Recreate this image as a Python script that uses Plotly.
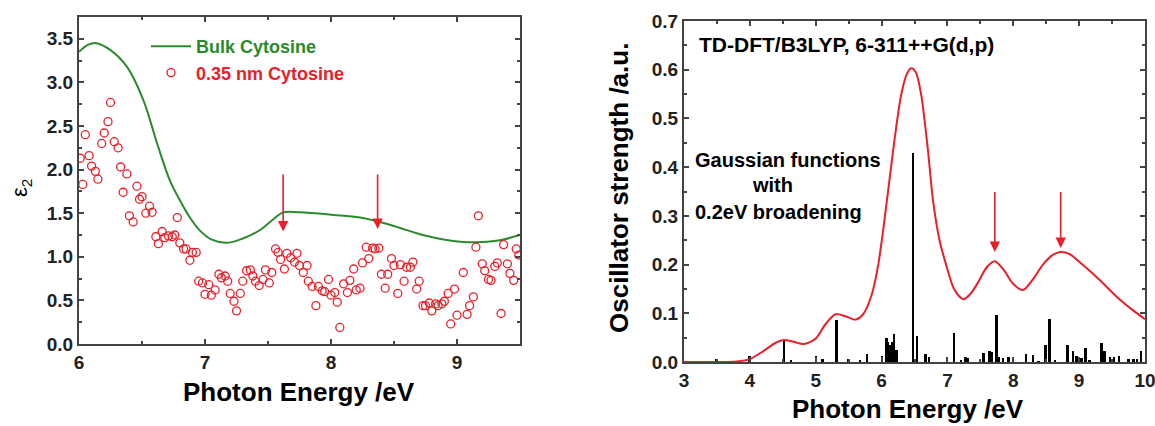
import plotly.graph_objects as go

# ---------------- Left panel data ----------------
bulk_x = [6.0, 6.07, 6.14, 6.25, 6.38, 6.51, 6.62, 6.72, 6.80, 6.88, 6.96, 7.05, 7.17, 7.30, 7.44, 7.55, 7.62, 7.75,
          8.02, 8.23, 8.41, 8.55, 8.68, 8.85, 9.05, 9.2, 9.34, 9.5]
bulk_y = [3.35, 3.43, 3.45, 3.37, 3.18, 2.80, 2.30, 1.88, 1.65, 1.45, 1.30, 1.20, 1.16, 1.21, 1.31, 1.44, 1.51, 1.51,
          1.48, 1.45, 1.39, 1.33, 1.27, 1.21, 1.17, 1.17, 1.19, 1.25]

nm_x = [6.01, 6.03, 6.05, 6.08, 6.10, 6.13, 6.15, 6.18, 6.20, 6.23, 6.25, 6.28, 6.31, 6.33, 6.35, 6.38, 6.40, 6.43,
        6.46, 6.48, 6.50, 6.53, 6.56, 6.58, 6.61, 6.63, 6.66, 6.68, 6.71, 6.74, 6.76, 6.78, 6.80, 6.83, 6.85, 6.88,
        6.90, 6.93, 6.95, 6.98, 7.00, 7.03, 7.05, 7.08, 7.11, 7.13, 7.16, 7.18, 7.20, 7.23, 7.25, 7.28, 7.30, 7.33,
        7.36, 7.38, 7.40, 7.43, 7.46, 7.48, 7.51, 7.53, 7.56, 7.58, 7.60, 7.63, 7.65, 7.68, 7.71, 7.73,
        7.75, 7.78, 7.81, 7.82, 7.85, 7.88, 7.90, 7.93, 7.95, 7.98, 8.00, 8.03, 8.05, 8.07, 8.10, 8.13, 8.15, 8.18,
        8.20, 8.23, 8.25, 8.28, 8.30, 8.33, 8.35, 8.38, 8.40, 8.43, 8.45, 8.48, 8.50, 8.53, 8.55, 8.58, 8.60, 8.63,
        8.65, 8.68, 8.70, 8.73, 8.75, 8.78, 8.80, 8.83, 8.85, 8.88, 8.90, 8.93, 8.95, 8.98, 9.00, 9.05, 9.08, 9.10,
        9.13, 9.15, 9.17, 9.20, 9.22, 9.25, 9.27, 9.30, 9.32, 9.35, 9.37, 9.40, 9.42, 9.45, 9.47, 9.49]
nm_y = [2.13, 1.83, 2.40, 2.16, 2.04, 1.98, 1.89, 2.30, 2.42, 2.55, 2.77, 2.32, 2.25, 2.03, 1.74, 1.95, 1.47, 1.40,
        1.81, 1.66, 1.69, 1.50, 1.58, 1.51, 1.23, 1.15, 1.29, 1.22, 1.24, 1.23, 1.25, 1.45, 1.16, 1.09, 1.09, 0.96,
        1.05, 1.05, 0.72, 0.70, 0.57, 0.68, 0.56, 0.62, 0.80, 0.76, 0.78, 0.72, 0.58, 0.49, 0.38, 0.58, 0.72, 0.84,
        0.85, 0.78, 0.72, 0.67, 0.74, 0.85, 0.70, 0.82, 1.09, 1.05, 0.97, 0.86, 1.04, 0.99, 0.94, 1.04,
        0.90, 0.82, 0.90, 0.72, 0.66, 0.44, 0.66, 0.61, 0.60, 0.74, 0.56, 0.59, 0.48, 0.19, 0.69, 0.59, 0.73, 0.86,
        0.62, 0.64, 0.93, 1.11, 0.98, 1.10, 1.09, 1.10, 0.80, 0.64, 0.80, 0.98, 0.90, 0.58, 0.91, 0.72, 0.88, 0.88,
        0.94, 0.63, 0.72, 0.44, 0.44, 0.47, 0.38, 0.46, 0.44, 0.46, 0.49, 0.58, 0.23, 0.63, 0.33, 0.82, 0.34, 0.44,
        0.54, 1.11, 1.47, 0.92, 0.84, 0.74, 0.73, 0.89, 0.93, 0.35, 1.14, 0.92, 0.81, 0.73, 1.09, 1.02]

left_arrow_x = [7.62, 8.37]
left_arrow_tip = [1.29, 1.32]
left_arrow_tail = [1.96, 1.96]

# ---------------- Right panel data ----------------
spec_x = [3.0, 3.5, 3.8, 4.0, 4.2, 4.4, 4.52, 4.65, 4.82, 5.0, 5.15, 5.30, 5.45, 5.60, 5.72, 5.85, 5.95, 6.08,
          6.2, 6.3, 6.38, 6.45, 6.52, 6.6, 6.7, 6.78, 6.88, 6.99, 7.1, 7.24, 7.35, 7.45, 7.6, 7.72, 7.85, 8.0,
          8.15, 8.3, 8.45, 8.6, 8.72, 8.85, 9.05, 9.3, 9.57, 9.8, 10.0]
spec_y = [0.0, 0.0, 0.001, 0.006, 0.022, 0.040, 0.045, 0.042, 0.037, 0.048, 0.078, 0.098, 0.094, 0.087, 0.098,
          0.138, 0.20, 0.33, 0.46, 0.55, 0.59, 0.603, 0.595, 0.55, 0.44, 0.333, 0.25, 0.195, 0.150, 0.129, 0.140,
          0.160, 0.195, 0.207, 0.190, 0.160, 0.148, 0.170, 0.200, 0.220, 0.226, 0.222, 0.200, 0.170, 0.134, 0.108,
          0.088]

stick_x = [3.50, 4.00, 4.52, 4.63, 5.01, 5.11, 5.32, 5.50, 5.68, 5.78, 6.01, 6.08, 6.10, 6.14, 6.16, 6.19, 6.23,
           6.48, 6.54, 6.66, 6.68, 6.72, 7.00, 7.10, 7.21, 7.28, 7.32, 7.55, 7.64, 7.67, 7.75, 7.79, 7.85, 7.93,
           8.00, 8.20, 8.30, 8.39, 8.49, 8.55, 8.64, 8.83, 8.91, 8.96, 9.00, 9.04, 9.10, 9.16, 9.34, 9.39, 9.47,
           9.53, 9.61, 9.75, 9.83, 9.88, 9.94]
stick_h = [0.006, 0.012, 0.045, 0.003, 0.012, 0.006, 0.086, 0.007, 0.005, 0.016, 0.012, 0.049, 0.042, 0.035,
           0.042, 0.057, 0.025, 0.429, 0.054, 0.016, 0.017, 0.011, 0.011, 0.060, 0.003, 0.010, 0.008, 0.018, 0.023,
           0.021, 0.097, 0.011, 0.008, 0.011, 0.011, 0.016, 0.015, 0.002, 0.034, 0.088, 0.005, 0.034, 0.023, 0.013,
           0.011, 0.008, 0.029, 0.004, 0.040, 0.022, 0.011, 0.010, 0.012, 0.006, 0.006, 0.006, 0.023]

right_arrow_x = [7.72, 8.72]
right_arrow_tip = [0.226, 0.234]
right_arrow_tail = [0.352, 0.352]

FONT = "Liberation Sans, Arial, sans-serif"
GREEN = "#2b8a2b"
RED = "#e8202a"
AXC = "#444444"

fig = go.Figure()

fig.add_trace(go.Scatter(
    x=bulk_x, y=bulk_y, mode="lines", line=dict(color=GREEN, width=2, shape="spline", smoothing=1.0),
    name="<b><span style='color:%s'>Bulk Cytosine</span></b>" % GREEN, xaxis="x", yaxis="y"))
fig.add_trace(go.Scatter(
    x=nm_x, y=nm_y, mode="markers",
    marker=dict(symbol="circle-open", size=8, color=RED, line=dict(width=1.3, color=RED)),
    name="<b><span style='color:%s'>0.35 nm Cytosine</span></b>" % RED, xaxis="x", yaxis="y"))

fig.add_trace(go.Bar(
    x=stick_x, y=stick_h, width=0.03, marker=dict(color="black", line=dict(width=0)),
    showlegend=False, xaxis="x2", yaxis="y2"))
fig.add_trace(go.Scatter(
    x=spec_x, y=spec_y, mode="lines", line=dict(color=RED, width=2, shape="spline", smoothing=0.8),
    showlegend=False, xaxis="x2", yaxis="y2"))

annotations = []
for xa, tip, tail in zip(left_arrow_x, left_arrow_tip, left_arrow_tail):
    annotations.append(dict(x=xa, y=tip, ax=xa, ay=tail, xref="x", yref="y", axref="x", ayref="y",
                            text="", showarrow=True, arrowhead=2, arrowsize=1.3, arrowwidth=1.6,
                            arrowcolor=RED))
for xa, tip, tail in zip(right_arrow_x, right_arrow_tip, right_arrow_tail):
    annotations.append(dict(x=xa, y=tip, ax=xa, ay=tail, xref="x2", yref="y2", axref="x2", ayref="y2",
                            text="", showarrow=True, arrowhead=2, arrowsize=1.3, arrowwidth=1.6,
                            arrowcolor=RED))


def ptext(px, py, text, size, xanchor="left", angle=0):
    return dict(x=px / 1155, y=1 - py / 426, xref="paper", yref="paper", xanchor=xanchor,
                yanchor="middle", showarrow=False, text=text, textangle=angle,
                font=dict(family=FONT, size=size, color="black"))


annotations.append(ptext(697, 45, "<b>TD-DFT/B3LYP, 6-311++G(d,p)</b>", 21))
annotations.append(ptext(693, 160, "<b>Gaussian functions</b>", 20))
annotations.append(ptext(772, 185, "<b>with</b>", 20, xanchor="center"))
annotations.append(ptext(693, 212, "<b>0.2eV broadening</b>", 20))

annotations.append(ptext(299, 392, "<b>Photon Energy /eV</b>", 26, xanchor="center"))
annotations.append(ptext(908, 409, "<b>Photon Energy /eV</b>", 26, xanchor="center"))
annotations.append(ptext(21, 188, "ε<sub>2</sub>", 22, xanchor="center", angle=-90))
annotations.append(ptext(619, 188, "<b>Oscillator strength /a.u.</b>", 26, xanchor="center", angle=-90))

axis_common = dict(showline=True, linecolor=AXC, linewidth=2, mirror="allticks", ticks="inside",
                   ticklen=5, tickwidth=1.5, tickcolor=AXC, showgrid=False, zeroline=False,
                   ticklabelstandoff=0, automargin=False, ticklabeloverflow="allow",
                   tickfont=dict(family=FONT, size=19, color="#222222", weight="bold"))

fig.update_layout(
    width=1155, height=426, margin=dict(l=0, r=0, t=0, b=0),
    paper_bgcolor="white", plot_bgcolor="white",
    showlegend=True,
    legend=dict(x=146 / 1155, y=1 - 28 / 426, xanchor="left", yanchor="top", bgcolor="rgba(0,0,0,0)",
                font=dict(family=FONT, size=18), itemwidth=40, tracegroupgap=0),
    xaxis=dict(domain=[79 / 1155, 520 / 1155], range=[6, 9.5], tickvals=[6, 7, 8, 9],
               minor=dict(tickvals=[6.5, 7.5, 8.5], ticks="inside", ticklen=3, tickcolor=AXC),
               anchor="y", **axis_common),
    yaxis=dict(domain=[1 - 344 / 426, 1 - 17 / 426], range=[0, 3.75],
               tickvals=[0, 0.5, 1, 1.5, 2, 2.5, 3, 3.5], tickformat=".1f",
               minor=dict(dtick=0.25, ticks="inside", ticklen=3, tickcolor=AXC),
               anchor="x", **axis_common),
    xaxis2=dict(domain=[684 / 1155, 1145 / 1155], range=[3, 10], dtick=1,
                minor=dict(dtick=0.5, ticks="inside", ticklen=3, tickcolor=AXC),
                anchor="y2", **axis_common),
    yaxis2=dict(domain=[1 - 362 / 426, 1 - 21 / 426], range=[0, 0.7], dtick=0.1, tickformat=".1f",
                minor=dict(dtick=0.05, ticks="inside", ticklen=3, tickcolor=AXC),
                anchor="x2", **axis_common),
    annotations=annotations,
    bargap=0,
)

fig.write_html("out.html", config={"displayModeBar": False},
               post_script="document.body.style.margin='0px';")
